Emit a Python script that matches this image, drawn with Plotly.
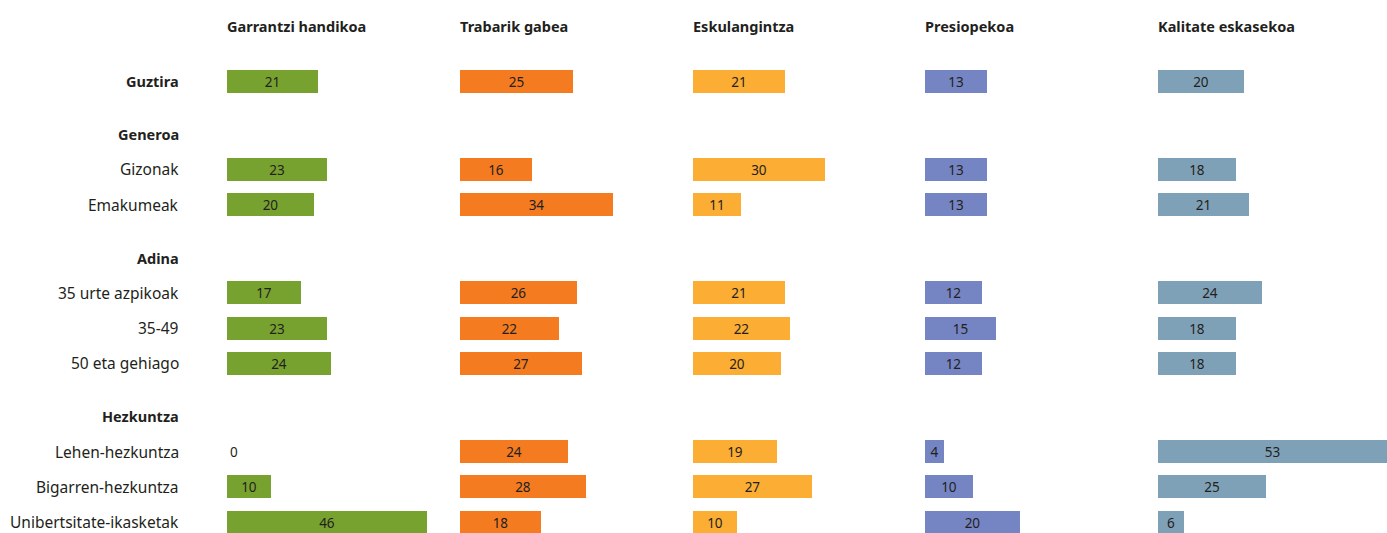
import plotly.graph_objects as go

# ---- data ----
columns = ["Garrantzi handikoa", "Trabarik gabea", "Eskulangintza", "Presiopekoa", "Kalitate eskasekoa"]
colors = ["#78A22F", "#F47B20", "#FBAD34", "#7584C2", "#7FA1B7"]

# rows: (label, is_group_header)
rows = [
    ("Guztira", True),
    ("Generoa", True),
    ("Gizonak", False),
    ("Emakumeak", False),
    ("Adina", True),
    ("35 urte azpikoak", False),
    ("35-49", False),
    ("50 eta gehiago", False),
    ("Hezkuntza", True),
    ("Lehen-hezkuntza", False),
    ("Bigarren-hezkuntza", False),
    ("Unibertsitate-ikasketak", False),
]
data_rows = ["Guztira", "Gizonak", "Emakumeak", "35 urte azpikoak", "35-49", "50 eta gehiago",
             "Lehen-hezkuntza", "Bigarren-hezkuntza", "Unibertsitate-ikasketak"]

garrantzi = [21, 23, 20, 17, 23, 24, 0, 10, 46]
trabarik = [25, 16, 34, 26, 22, 27, 24, 28, 18]
eskulangintza = [21, 30, 11, 21, 22, 20, 19, 27, 10]
presiopekoa = [13, 13, 13, 12, 15, 12, 4, 10, 20]
kalitate = [20, 18, 21, 24, 18, 18, 53, 25, 6]
series = [garrantzi, trabarik, eskulangintza, presiopekoa, kalitate]

# ---- layout helpers ----
W, H = 1387, 533
col_starts = [227, 460, 693, 925, 1158]
col_width = 229
px_per_unit = [4.35, 4.5, 4.4, 4.75, 4.32]
row_step_px = 35.3
first_row_px = 81

# y positions: step 1 per row, 1.5 before a new group header
ypos = {}
p = 0.0
for i, (lab, hdr) in enumerate(rows):
    if i > 0:
        p += 1.5 if hdr else 1.0
    ypos[lab] = p

y_top = -first_row_px / row_step_px
y_bot = (H - first_row_px) / row_step_px
title_y = (26 - first_row_px) / row_step_px

fig = go.Figure()
text_color = "#231F20"
for k, (name, vals, col) in enumerate(zip(columns, series, colors)):
    ax = "x" if k == 0 else f"x{k+1}"
    fig.add_trace(go.Bar(
        orientation="h",
        x=vals,
        y=[ypos[r] for r in data_rows],
        width=23 / row_step_px,
        marker=dict(color=col, line=dict(width=0)),
        text=[str(v) for v in vals],
        textposition=["outside" if v == 0 else "inside" for v in vals],
        insidetextanchor="middle",
        textangle=0,
        textfont=dict(family="Noto Sans", size=13.5, color=text_color),
        constraintext="none",
        cliponaxis=False,
        xaxis=ax, yaxis="y",
        showlegend=False,
        hoverinfo="skip",
    ))

layout_axes = {}
for k in range(5):
    key = "xaxis" if k == 0 else f"xaxis{k+1}"
    d0 = col_starts[k] / W
    d1 = min(1.0, (col_starts[k] + col_width) / W)
    layout_axes[key] = dict(domain=[d0, d1], range=[0, col_width / px_per_unit[k]],
                            visible=False, fixedrange=True, anchor="y")

annotations = []
for k, name in enumerate(columns):
    annotations.append(dict(
        x=col_starts[k] / W, xref="paper", y=title_y, yref="y",
        text=f"<b>{name}</b>", showarrow=False, xanchor="left", yanchor="middle",
        xshift=-2,
        font=dict(family="Noto Sans", size=14.5, color=text_color)))
for lab, hdr in rows:
    annotations.append(dict(
        x=181 / W, xref="paper", y=ypos[lab], yref="y",
        text=f"<b>{lab}</b>" if hdr else lab, showarrow=False,
        xanchor="right", yanchor="middle",
        font=dict(family="Noto Sans", size=14.5 if hdr else 15.5, color=text_color)))

fig.update_layout(
    width=W, height=H,
    margin=dict(l=0, r=0, t=0, b=0, autoexpand=False),
    paper_bgcolor="white", plot_bgcolor="white",
    yaxis=dict(range=[y_bot, y_top], visible=False, fixedrange=True),
    annotations=annotations,
    bargap=0,
    **layout_axes,
)

fig.write_html("out.html", config={"displayModeBar": False},
               post_script="document.body.style.margin='0';document.body.style.overflow='hidden';")
